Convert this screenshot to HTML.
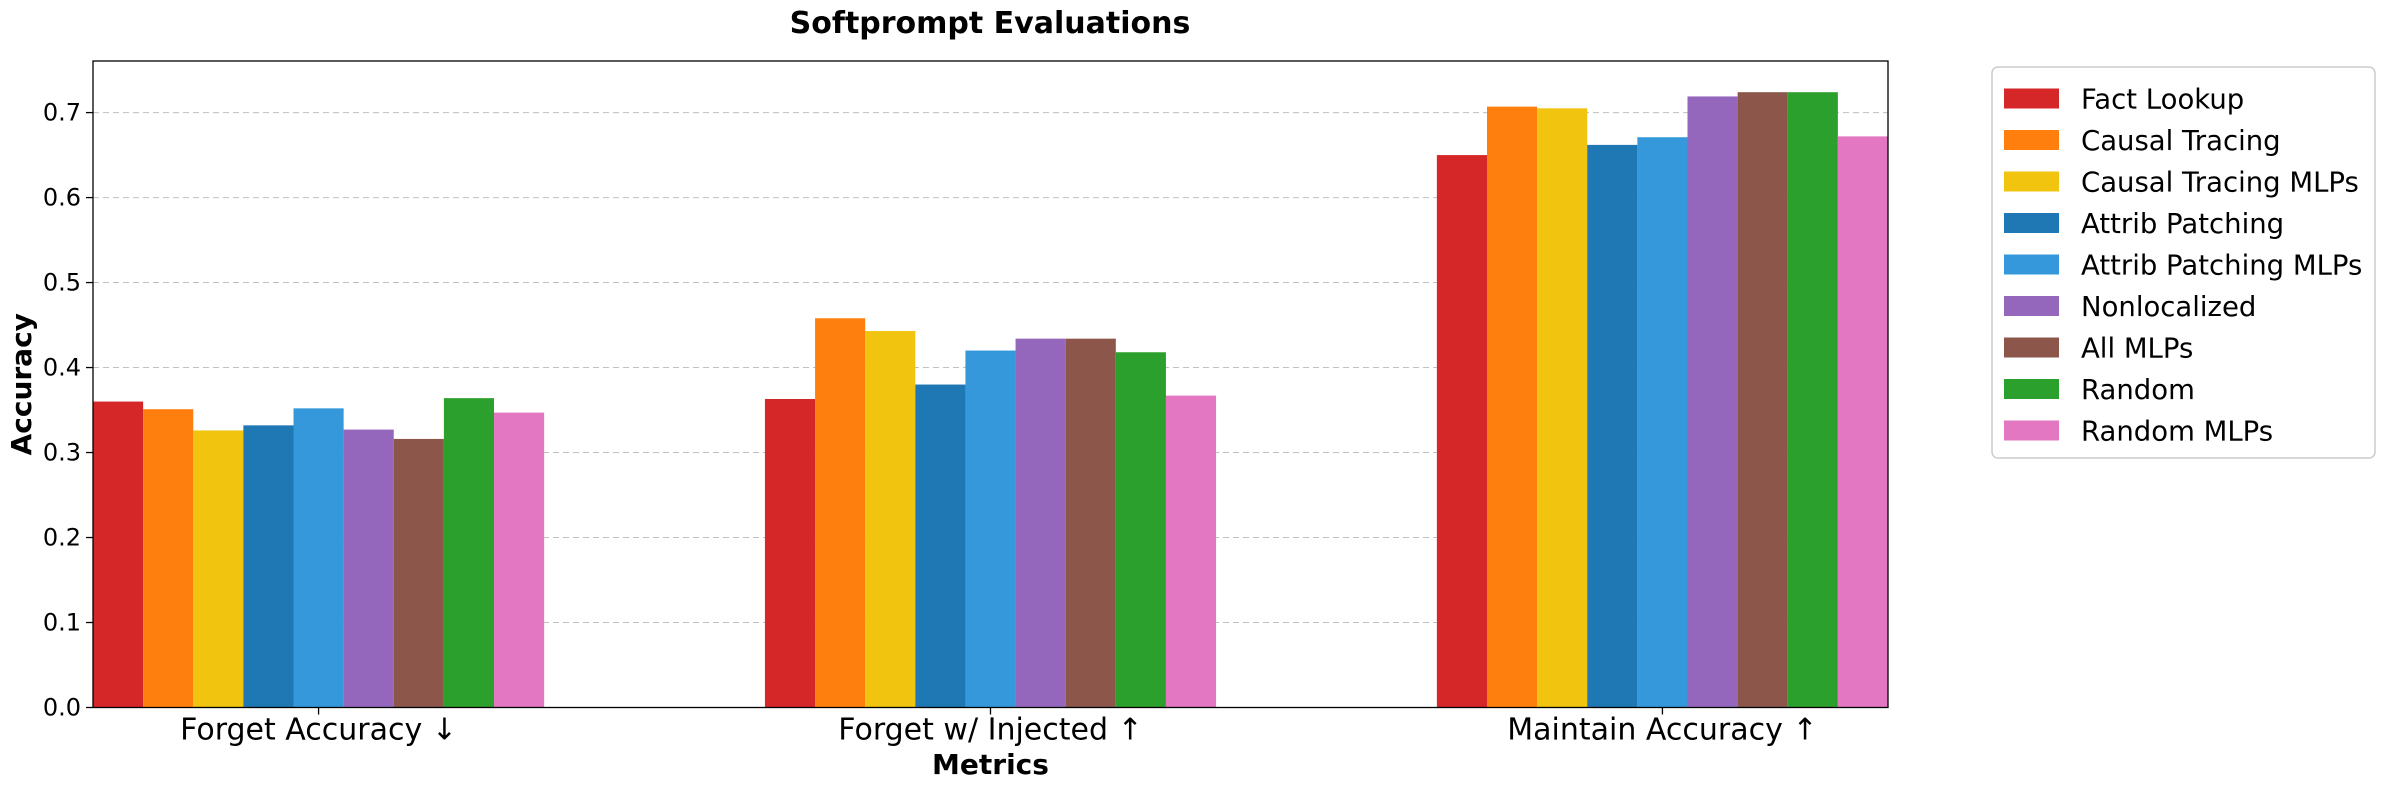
<!DOCTYPE html>
<html><head><meta charset="utf-8"><style>
html,body{margin:0;padding:0;background:#fff;}
svg{display:block;font-family:"DejaVu Sans","Liberation Sans",sans-serif;}
</style></head><body>
<svg id="chart" width="2386" height="790" viewBox="0 0 2386 790" xmlns="http://www.w3.org/2000/svg">
<text x="990" y="33" text-anchor="middle" font-size="30" font-weight="bold">Softprompt Evaluations</text>
<g id="grid"></g>
<g id="bars"></g>
<g id="axes"></g>
<g id="legend"></g>
</svg>
<script>
const categories = ["Forget Accuracy ↓", "Forget w/ Injected ↑", "Maintain Accuracy ↑"];
const seriesNames = ["Fact Lookup","Causal Tracing","Causal Tracing MLPs","Attrib Patching","Attrib Patching MLPs","Nonlocalized","All MLPs","Random","Random MLPs"];
const seriesColors = ["#d62728","#ff7f0e","#f1c40f","#1f77b4","#3498db","#9467bd","#8c564b","#2ca02c","#e377c2"];
const forgetAcc = [0.360,0.351,0.326,0.332,0.352,0.327,0.316,0.364,0.347];
const forgetInjected = [0.363,0.458,0.443,0.380,0.420,0.434,0.434,0.418,0.367];
const maintainAcc = [0.650,0.707,0.705,0.662,0.671,0.719,0.724,0.724,0.672];
const values = [forgetAcc, forgetInjected, maintainAcc];
const yTicks = [0.0,0.1,0.2,0.3,0.4,0.5,0.6,0.7];

const NS = "http://www.w3.org/2000/svg";
const L = 93, R = 1888, T = 61, B = 707.5;
const yMax = 0.7607;
const y = v => B - (v / yMax) * (B - T);
const barW = 0.0746;
const xMin = -4.5 * barW, xMaxU = 2 + 4.5 * barW;
const x = u => L + (u - xMin) / (xMaxU - xMin) * (R - L);
function mk(tag, attrs, parent, text) {
  const e = document.createElementNS(NS, tag);
  for (const k in attrs) e.setAttribute(k, attrs[k]);
  if (text !== undefined) e.textContent = text;
  parent.appendChild(e);
  return e;
}
const grid = document.getElementById('grid'), bars = document.getElementById('bars'),
      axes = document.getElementById('axes'), legend = document.getElementById('legend');

yTicks.forEach(t => {
  const g = mk('line', {x1: L, x2: R, y1: y(t), y2: y(t), stroke: '#b0b0b0', 'stroke-width': 1, 'stroke-dasharray': '6,4', opacity: 0.8}, grid);
  
  
  mk('line', {x1: L - 7, x2: L, y1: y(t), y2: y(t), stroke: '#000', 'stroke-width': 1.3}, axes);
  const lb = mk('text', {x: L - 12, y: y(t) + 8, 'text-anchor': 'end', 'font-size': 24}, axes, t.toFixed(1));
  
  
});

categories.forEach((c, ci) => {
  values[ci].forEach((v, si) => {
    const u0 = ci + (si - 4.5) * barW;
    const r = mk('rect', {x: x(u0), y: y(v), width: x(u0 + barW) - x(u0), height: y(0) - y(v), fill: seriesColors[si]}, bars);
    
    
  });
  mk('line', {x1: x(ci), x2: x(ci), y1: B, y2: B + 7, stroke: '#000', 'stroke-width': 1.3}, axes);
  const lb = mk('text', {x: x(ci), y: B + 32, 'text-anchor': 'middle', 'font-size': 30}, axes, c);
  
  
});

const frame = mk('rect', {x: L, y: T, width: R - L, height: B - T, fill: 'none', stroke: '#000', 'stroke-width': 1.3}, axes);


const xt = mk('text', {x: (L + R) / 2, y: 774, 'text-anchor': 'middle', 'font-size': 28, 'font-weight': 'bold'}, axes, 'Metrics');


const yt = mk('text', {x: 0, y: 0, 'text-anchor': 'middle', 'font-size': 28, 'font-weight': 'bold', transform: 'translate(31,' + ((T + B) / 2) + ') rotate(-90)'}, axes, 'Accuracy');



const lbox = mk('rect', {x: 1992, y: 67, width: 383, height: 391, rx: 6, fill: '#fff', stroke: '#ccc', 'stroke-width': 1.5}, legend);


seriesNames.forEach((n, i) => {
  const cy = 98.5 + i * 41.5;
  const g = mk('g', {}, legend);
  
  
  mk('rect', {x: 2004, y: cy - 10, width: 55, height: 20, fill: seriesColors[i]}, g);
  mk('text', {x: 2081, y: cy + 10, 'font-size': 27.5}, g, n);
});
</script>
</body></html>
